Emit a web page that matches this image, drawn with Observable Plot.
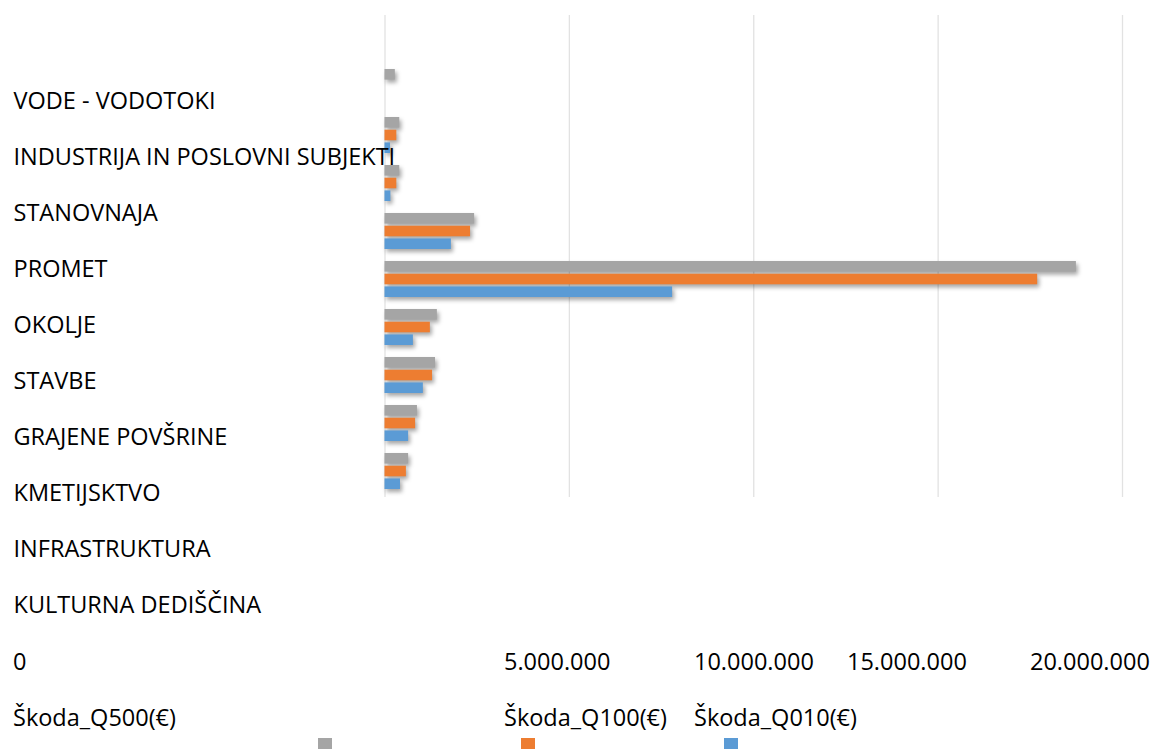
<!DOCTYPE html>
<html>
<head>
<meta charset="utf-8">
<script src="https://cdn.jsdelivr.net/npm/d3@7"></script>
<script src="https://cdn.jsdelivr.net/npm/@observablehq/plot@0.6"></script>
<style>
  html, body { margin: 0; padding: 0; background: #fff; }
  #chart { position: relative; width: 1154px; height: 749px; overflow: hidden;
           font-family: "Open Sans", sans-serif; color: #000; }
  #chart svg { position: absolute; left: 0; top: 0; overflow: visible; }
  .txt { position: absolute; white-space: nowrap; font-size: 23.5px; line-height: 23.5px; }
  .sw { position: absolute; width: 14px; height: 14px; }
</style>
</head>
<body>
<div id="chart"></div>
<script>
// ---- data ----
const categories = [
  "VODE - VODOTOKI",
  "INDUSTRIJA IN POSLOVNI SUBJEKTI",
  "STANOVNAJA",
  "PROMET",
  "OKOLJE",
  "STAVBE",
  "GRAJENE POVŠRINE",
  "KMETIJSKTVO",
  "INFRASTRUKTURA",
  "KULTURNA DEDIŠČINA"
];
const seriesNames = ["Škoda_Q500(€)", "Škoda_Q100(€)", "Škoda_Q010(€)"];
const q500 = [0, 280000, 400000, 400000, 2430000, 18750000, 1420000, 1370000, 880000, 640000];
const q100 = [0, 0, 320000, 320000, 2320000, 17700000, 1230000, 1290000, 830000, 580000];
const q010 = [0, 0, 150000, 160000, 1800000, 7800000, 770000, 1040000, 640000, 420000];
const xTicks = [0, 5000000, 10000000, 15000000, 20000000];

// ---- styles / layout ----
const colors = ["#A5A5A5", "#ED7D31", "#5B9BD5"];
const fontSize = 23.5;
const tickLeft = [13, 504, 694, 847, 1030];
const legendLeft = [13, 504, 694];
const swatchLeft = [318, 521, 724];

const seriesValues = [q500, q100, q010];
const table = [];
seriesNames.forEach((s, i) => categories.forEach((c, j) => table.push({series: s, category: c, value: seriesValues[i][j]})));

const chart = document.getElementById("chart");

const barsPlot = Plot.plot({
  width: 1154,
  height: 510,
  marginLeft: 384.5,
  marginRight: 32,
  marginTop: 11.2,
  marginBottom: 11,
  x: {domain: [0, 20000000], axis: null},
  y: {domain: categories, axis: null, paddingInner: 0.24, paddingOuter: 0.12},
  marks: [
    Plot.ruleX(xTicks, {stroke: "#e2e2e2", strokeWidth: 1.3, insetTop: 3.8, insetBottom: 2}),
    ...seriesNames.map((s, i) => Plot.barX(table.filter(d => d.series === s), {
      x: "value", y: "category", fill: colors[i],
      insetTop: i * 12.7, insetBottom: (2 - i) * 12.7
    }))
  ]
});
barsPlot.querySelectorAll('g[aria-label="bar"]').forEach(g => {
  g.style.filter = "drop-shadow(2px 3px 2px rgba(0,0,0,0.35))";
});
chart.appendChild(barsPlot);

const labelPlot = Plot.plot({
  width: 420,
  height: 640,
  marginTop: 107.3 - 0.32 * fontSize,
  marginBottom: 640 - (614.3 - 0.32 * fontSize),
  marginLeft: 13,
  marginRight: 0,
  style: {fontFamily: "'Open Sans', sans-serif", overflow: "visible", background: "transparent"},
  x: {axis: null},
  y: {domain: categories, type: "point", padding: 0, axis: null},
  marks: [
    Plot.text(categories, {y: d => d, frameAnchor: "left", textAnchor: "start", fontSize: fontSize, fill: "#000"})
  ]
});
chart.appendChild(labelPlot);

const fmt = d3.formatLocale({decimal: ",", thousands: ".", grouping: [3], currency: ["", "€"]}).format(",");
const asc = 0.888 * fontSize;
xTicks.forEach((t, i) => {
  const s = document.createElement("span");
  s.className = "txt";
  s.textContent = fmt(t);
  s.style.left = tickLeft[i] + "px";
  s.style.top = (671 - asc) + "px";
  chart.appendChild(s);
});
seriesNames.forEach((n, i) => {
  const s = document.createElement("span");
  s.className = "txt";
  s.textContent = n;
  s.style.left = legendLeft[i] + "px";
  s.style.top = (727 - asc) + "px";
  chart.appendChild(s);
  const w = document.createElement("span");
  w.className = "sw";
  w.style.left = swatchLeft[i] + "px";
  w.style.top = "738px";
  w.style.background = colors[i];
  chart.appendChild(w);
});
</script>
</body>
</html>
